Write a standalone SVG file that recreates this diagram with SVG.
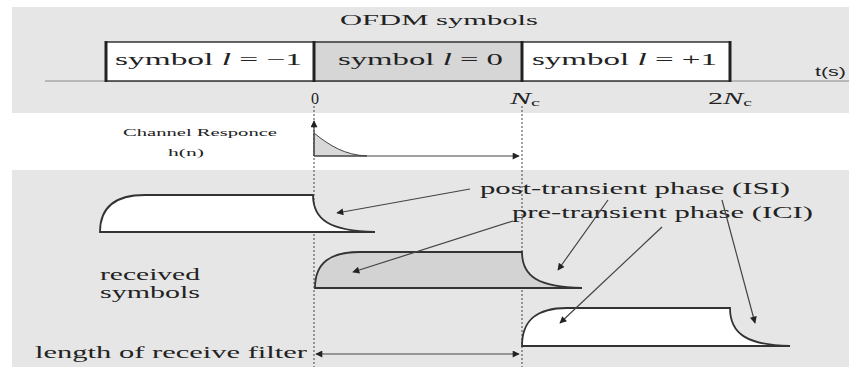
<svg xmlns="http://www.w3.org/2000/svg" width="849" height="367" viewBox="0 0 849 367">
<style>
.band{fill:#e6e6e6}
.t{font-family:"Liberation Serif","Times New Roman",serif;fill:#222}
.shape{stroke:#333;stroke-width:1.8;fill:#fff}
.gray{fill:#d3d3d3}
.edge{stroke:#222;stroke-width:3}
.dot{stroke:#444;stroke-width:1;stroke-dasharray:2 2;fill:none}
.arr{stroke:#444;stroke-width:1.2;fill:none;marker-end:url(#ah)}
</style>
<defs>
<marker id="ah" viewBox="0 0 10 10" refX="9" refY="5" markerWidth="9" markerHeight="7" markerUnits="userSpaceOnUse" orient="auto">
<path d="M0,0 L10,5 L0,10 Z" fill="#222"/>
</marker>
<marker id="ahs" viewBox="0 0 10 10" refX="1" refY="5" markerWidth="9" markerHeight="7" markerUnits="userSpaceOnUse" orient="auto">
<path d="M10,0 L0,5 L10,10 Z" fill="#222"/>
</marker>
</defs>
<rect width="849" height="367" fill="#fff"/>
<rect class="band" x="12" y="7" width="837" height="106"/>
<rect class="band" x="12" y="170" width="837" height="197"/>

<g id="title"><text class="t" x="340" y="25" font-size="15" textLength="198" lengthAdjust="spacingAndGlyphs">OFDM symbols</text></g>

<g id="axis">
<line x1="45" y1="81" x2="849" y2="81" stroke="#888" stroke-width="1.2"/>
<text x="815" y="76" font-family="Liberation Sans,Arial,sans-serif" font-size="13" fill="#222" textLength="31" lengthAdjust="spacingAndGlyphs">t(s)</text>
<text class="t" x="315" y="104" font-size="16" text-anchor="middle">0</text>
<text class="t" x="510" y="104" font-size="17" textLength="30" lengthAdjust="spacingAndGlyphs"><tspan font-style="italic">N</tspan><tspan font-size="11" dy="2">c</tspan></text>
<text class="t" x="708" y="104" font-size="17" textLength="44" lengthAdjust="spacingAndGlyphs">2<tspan font-style="italic">N</tspan><tspan font-size="11" dy="2">c</tspan></text>
</g>

<g id="sym-m1">
<rect x="106" y="42" width="208" height="39" fill="#fff" stroke="#333" stroke-width="1.5"/>
<text class="t" x="115" y="65" font-size="16" textLength="187" lengthAdjust="spacingAndGlyphs">symbol <tspan font-style="italic">l</tspan> = −1</text>
</g>
<g id="sym-0">
<rect x="314" y="42" width="208" height="39" fill="#d6d6d6" stroke="#333" stroke-width="1.5"/>
<text class="t" x="338" y="65" font-size="16" textLength="165" lengthAdjust="spacingAndGlyphs">symbol <tspan font-style="italic">l</tspan> = 0</text>
</g>
<g id="sym-p1">
<rect x="522" y="42" width="208" height="39" fill="#fff" stroke="#333" stroke-width="1.5"/>
<text class="t" x="532" y="65" font-size="16" textLength="185" lengthAdjust="spacingAndGlyphs">symbol <tspan font-style="italic">l</tspan> = +1</text>
</g>
<g id="edges">
<line class="edge" x1="106" y1="41" x2="106" y2="82"/>
<line class="edge" x1="314" y1="41" x2="314" y2="82"/>
<line class="edge" x1="522" y1="41" x2="522" y2="82"/>
<line class="edge" x1="730" y1="41" x2="730" y2="82"/>
</g>

<g id="guides">
<line class="dot" x1="314" y1="106" x2="314" y2="367"/>
<line class="dot" x1="522" y1="106" x2="522" y2="367"/>
</g>

<g id="channel">
<text class="t" x="123" y="136" font-size="10" textLength="154" lengthAdjust="spacingAndGlyphs">Channel Responce</text>
<text class="t" x="168" y="156" font-size="11" textLength="36" lengthAdjust="spacingAndGlyphs">h(n)</text>
<path d="M314,133 C330,146 345,155 367,156 L314,156 Z" fill="#d8d8d8" stroke="#444" stroke-width="1"/>
</g>

<g id="rx-m1"><path class="shape" d="M100,232 C100,206 116,195 145,195 L313,195 C313,220 330,231 375,232 Z"/></g>
<g id="rx-0"><path class="shape gray" d="M315,288 C315,262 331,252 360,252 L522,252 C522,277 539,287 582,288 Z"/></g>
<g id="rx-p1"><path class="shape" d="M522,346 C522,319 538,308 567,308 L730,308 C730,334 747,345 790,346 Z"/></g>

<g id="labels">
<text class="t" x="480" y="194" font-size="17" textLength="310" lengthAdjust="spacingAndGlyphs">post-transient phase (ISI)</text>
<text class="t" x="512" y="218" font-size="17" textLength="301" lengthAdjust="spacingAndGlyphs">pre-transient phase (ICI)</text>
<text class="t" x="100" y="280" font-size="16" textLength="100" lengthAdjust="spacingAndGlyphs">received</text>
<text class="t" x="100" y="298" font-size="16" textLength="100" lengthAdjust="spacingAndGlyphs">symbols</text>
<text class="t" x="35" y="358" font-size="16" textLength="272" lengthAdjust="spacingAndGlyphs">length of receive filter</text>
</g>

<g id="connectors">
<line x1="314" y1="156" x2="314" y2="121" stroke="#444" stroke-width="1.2" marker-end="url(#ah)"/>
<line class="arr" x1="314" y1="156" x2="519" y2="156"/>
<line class="arr" x1="470" y1="189" x2="337" y2="213"/>
<line class="arr" x1="513" y1="221" x2="353" y2="272"/>
<line class="arr" x1="608" y1="200" x2="558" y2="270"/>
<line class="arr" x1="662" y1="227" x2="560" y2="323"/>
<line class="arr" x1="722" y1="200" x2="755" y2="323"/>
<line x1="316" y1="354" x2="519" y2="354" stroke="#444" stroke-width="1.2" marker-start="url(#ahs)" marker-end="url(#ah)"/>
</g>
</svg>
